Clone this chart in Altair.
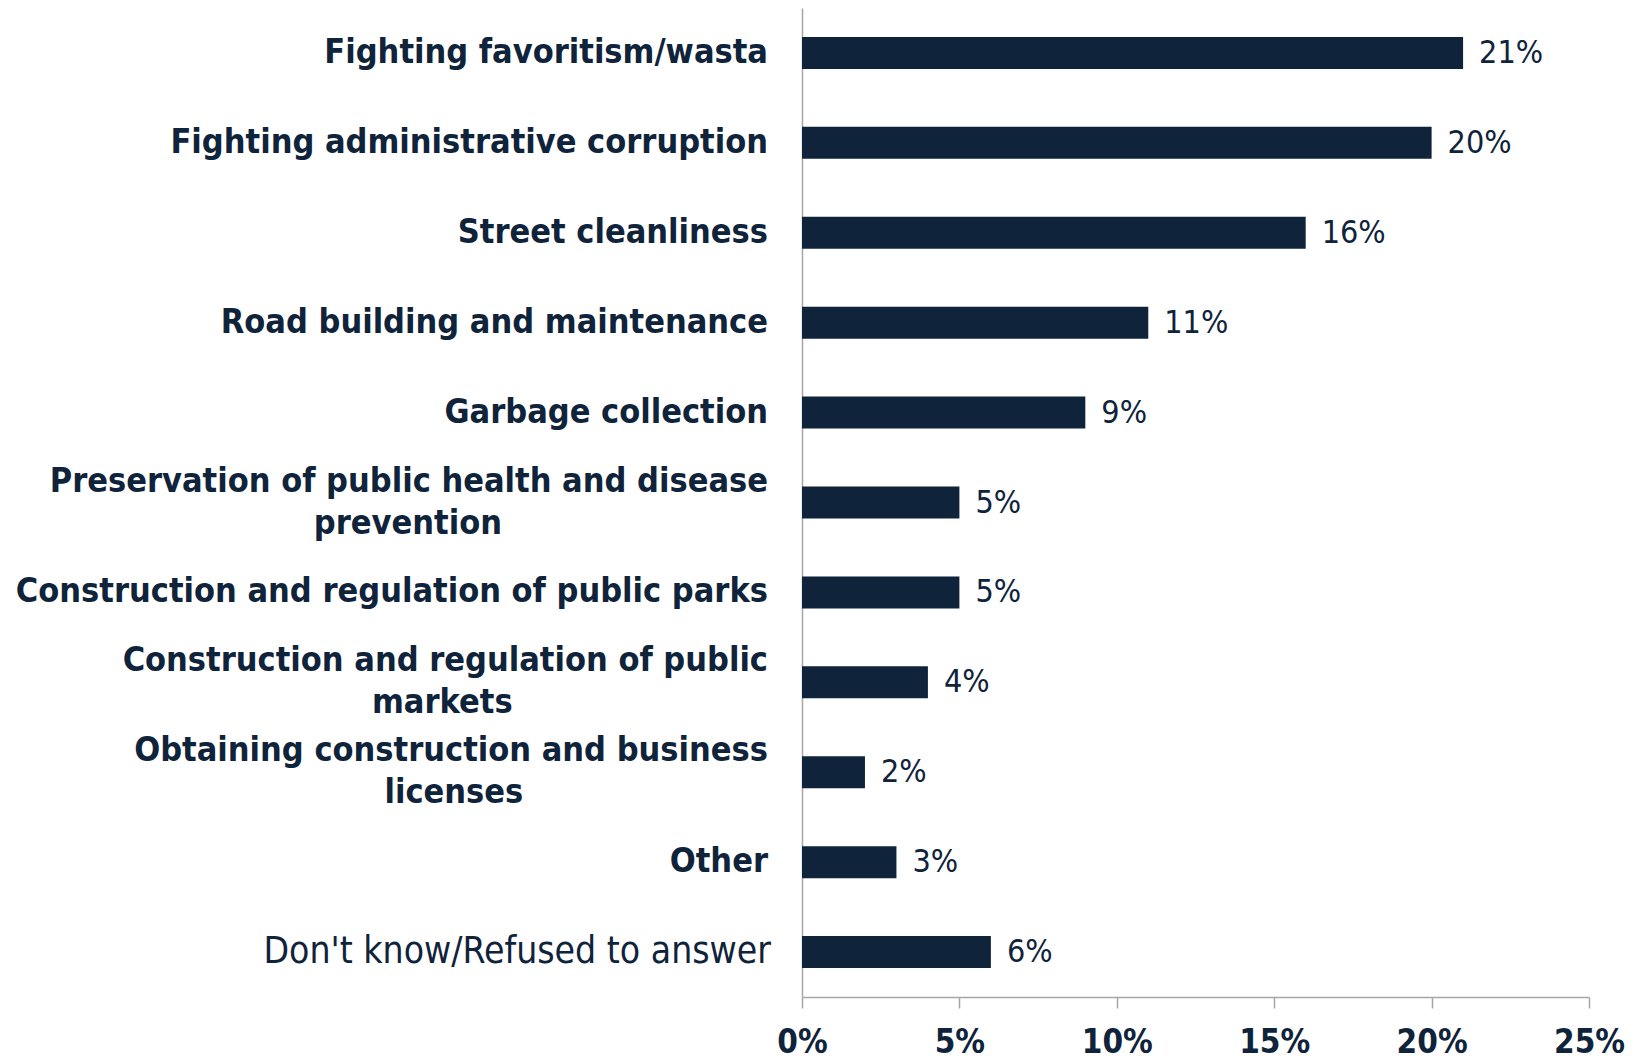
import altair as alt
import pandas as pd

categories = [
    "Fighting favoritism/wasta",
    "Fighting administrative corruption",
    "Street cleanliness",
    "Road building and maintenance",
    "Garbage collection",
    "Preservation of public health and disease prevention",
    "Construction and regulation of public parks",
    "Construction and regulation of public markets",
    "Obtaining construction and business licenses",
    "Other",
    "Don't know/Refused to answer",
]
values = [21, 20, 16, 11, 9, 5, 5, 4, 2, 3, 6]
label_lines = [
    ["Fighting favoritism/wasta"],
    ["Fighting administrative corruption"],
    ["Street cleanliness"],
    ["Road building and maintenance"],
    ["Garbage collection"],
    ["Preservation of public health and disease", "prevention"],
    ["Construction and regulation of public parks"],
    ["Construction and regulation of public", "markets"],
    ["Obtaining construction and business", "licenses"],
    ["Other"],
    ["Don't know/Refused to answer"],
]
is_bold = [True] * 10 + [False]
tick_values = [0, 5, 10, 15, 20, 25]

# trailing non-breaking spaces (kept by a zero-width space) centre the
# wrapped second line under the first one
NBSP = "\u00a0"
ZWSP = "\u200b"
centre_pad = {5: 25, 7: 24, 8: 23}


def build_label(i, lines):
    if len(lines) == 1:
        return lines[0]
    return "\n".join(lines[:-1] + [lines[-1] + NBSP * centre_pad.get(i, 0) + ZWSP])


df = pd.DataFrame({
    "category": categories,
    "value": values,
    "label": [build_label(i, l) for i, l in enumerate(label_lines)],
    "bold": is_bold,
    "wrapped": [len(l) > 1 for l in label_lines],
})

NAVY = "#0f233b"
GREY = "#a6a6a6"

y_enc = alt.Y(
    "category:N",
    sort=categories,
    scale=alt.Scale(paddingInner=0.644, paddingOuter=0.322),
    axis=alt.Axis(labels=False, ticks=False, domain=True, domainColor=GREY,
                  domainWidth=1.5, title=None, grid=False),
)

bars = alt.Chart(df).mark_bar(color=NAVY).encode(
    x=alt.X(
        "value:Q",
        scale=alt.Scale(domain=[0, 25], nice=False),
        axis=alt.Axis(
            values=tick_values,
            labelExpr="datum.value + '%'",
            title=None,
            grid=False,
            domainColor=GREY,
            domainWidth=1.5,
            tickColor=GREY,
            tickWidth=1.5,
            tickSize=11,
            labelFont="DejaVu Sans Condensed",
            labelFontWeight="bold",
            labelFontSize=33,
            labelColor=NAVY,
            labelPadding=18,
            labelFlush=False,
        ),
    ),
    y=y_enc,
)

values_text = alt.Chart(df).transform_calculate(
    txt="datum.value + '%'"
).mark_text(
    align="left", baseline="middle", dx=16,
    font="DejaVu Sans Condensed", fontSize=32, color=NAVY,
).encode(
    x=alt.X("value:Q"),
    y=y_enc,
    text="txt:N",
)

single_labels = alt.Chart(df).transform_filter(
    "datum.bold && !datum.wrapped"
).mark_text(
    align="right", baseline="middle",
    font="DejaVu Sans Condensed", fontWeight="bold", fontSize=34, color=NAVY,
).encode(
    x=alt.value(-34),
    y=y_enc,
    text="label:N",
)

wrapped_labels = alt.Chart(df).transform_filter(
    "datum.bold && datum.wrapped"
).mark_text(
    align="right", baseline="middle", lineBreak="\n", lineHeight=42, dy=-21,
    font="DejaVu Sans Condensed", fontWeight="bold", fontSize=34, color=NAVY,
).encode(
    x=alt.value(-34),
    y=y_enc,
    text="label:N",
)

plain_labels = alt.Chart(df).transform_filter("!datum.bold").mark_text(
    align="right", baseline="middle",
    font="DejaVu Sans Condensed", fontSize=37, color=NAVY,
).encode(
    x=alt.value(-31),
    y=y_enc,
    text="label:N",
)

chart = alt.layer(bars, values_text, single_labels, wrapped_labels, plain_labels).properties(
    width=787,
    height=989,
    autosize=alt.AutoSizeParams(type="none"),
    padding={"left": 794, "top": 0, "right": 40, "bottom": 62},
    background="white",
).configure_view(stroke=None)

chart.save("out.html", embed_options={"renderer": "svg", "actions": False})
